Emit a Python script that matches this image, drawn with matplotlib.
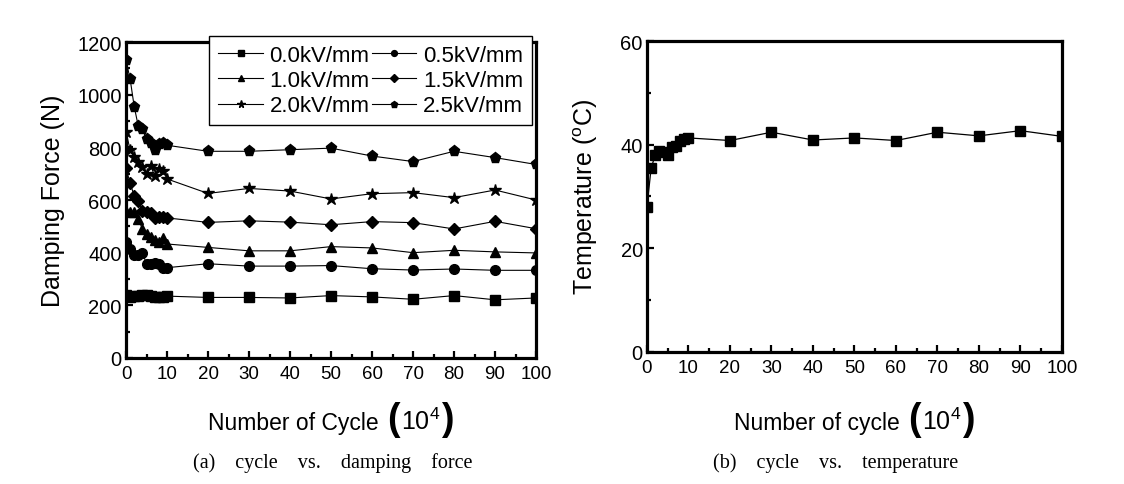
import matplotlib
matplotlib.use("Agg")
import matplotlib.pyplot as plt
from matplotlib.ticker import MultipleLocator
from matplotlib.offsetbox import TextArea, HPacker, AnnotationBbox

plt.rcParams['font.family'] = ['Liberation Sans', 'DejaVu Sans']
plt.rcParams['mathtext.fontset'] = 'custom'
plt.rcParams['mathtext.rm'] = 'Liberation Sans'
plt.rcParams['mathtext.it'] = 'Liberation Sans'

# cycles in 10^4
cycles = [0, 1, 2, 3, 4, 5, 6, 7, 8, 9, 10, 20, 30, 40, 50, 60, 70, 80, 90, 100]

# damping force (N) per field strength
f00 = [240, 232, 236, 237, 241, 240, 237, 232, 232, 232, 235, 230, 230, 228, 237, 232, 223, 237, 221, 228]
f05 = [440, 414, 392, 392, 400, 358, 358, 361, 357, 342, 343, 358, 349, 349, 351, 339, 334, 338, 333, 333]
f10 = [560, 555, 553, 528, 490, 471, 458, 450, 440, 455, 433, 420, 407, 407, 423, 418, 400, 409, 403, 399]
f15 = [720, 665, 615, 597, 560, 553, 550, 530, 535, 535, 532, 515, 521, 516, 506, 518, 514, 490, 519, 491]
f20 = [860, 790, 762, 743, 724, 700, 730, 692, 718, 711, 680, 625, 644, 634, 604, 624, 628, 609, 638, 600]
f25 = [1130, 1060, 955, 880, 870, 830, 815, 790, 812, 818, 808, 785, 785, 791, 797, 767, 746, 785, 761, 735]

labels = ["0.0kV/mm", "0.5kV/mm", "1.0kV/mm", "1.5kV/mm", "2.0kV/mm", "2.5kV/mm"]

# temperature (deg C)
temp = [28, 35.5, 38, 38.8, 38.5, 38.1, 39.5, 39.8, 40.8, 41.1, 41.3, 40.8, 42.4, 40.9, 41.3, 40.8, 42.4, 41.7, 42.7, 41.6]

fig = plt.figure(figsize=(11.24, 4.85), dpi=100)
ax1 = fig.add_axes([0.1121, 0.2598, 0.3648, 0.6515])
ax2 = fig.add_axes([0.5756, 0.2722, 0.3692, 0.6412])

def style(ax):
    for s in ax.spines.values():
        s.set_linewidth(2.3)
    ax.xaxis.set_major_locator(MultipleLocator(10))
    ax.xaxis.set_minor_locator(MultipleLocator(5))
    ax.tick_params(which='both', direction='in', top=False, right=False)
    ax.tick_params(which='major', length=5, width=1.6)
    ax.tick_params(which='minor', length=3, width=1.6)
    ax.tick_params(axis='x', labelsize=13.5, pad=5)
    ax.tick_params(axis='y', labelsize=14.5, pad=3)
    ax.set_xlim(0, 100)

def xlab(ax, s, y):
    parts = [TextArea(s, textprops=dict(fontsize=16.5)),
             TextArea("(", textprops=dict(fontsize=27, fontweight='bold')),
             TextArea(r"10$^{4}$", textprops=dict(fontsize=18)),
             TextArea(")", textprops=dict(fontsize=27, fontweight='bold'))]
    box = HPacker(children=parts, align="baseline", pad=0, sep=1)
    ab = AnnotationBbox(box, (0.5, y), xycoords='axes fraction', frameon=False,
                        box_alignment=(0.5, 0.5))
    ax.add_artist(ab)

# ---- (a) damping force
series = [f00, f05, f10, f15, f20, f25]
markers = ['s', 'o', '^', 'D', '*', 'p']
sizes = [6.5, 7, 7.5, 6.5, 9, 8]
lines = []
for y, m, ms, lb in zip(series, markers, sizes, labels):
    l, = ax1.plot(cycles, y, color='black', lw=0.8, marker=m, ms=ms, label=lb)
    lines.append(l)

style(ax1)
ax1.set_ylim(0, 1200)
ax1.yaxis.set_major_locator(MultipleLocator(200))
ax1.yaxis.set_minor_locator(MultipleLocator(100))
ax1.set_ylabel("Damping Force (N)", fontsize=18, labelpad=9)
xlab(ax1, "Number of Cycle ", -0.193)

order = [0, 2, 4, 1, 3, 5]
leg = ax1.legend([lines[i] for i in order], [labels[i] for i in order], ncol=2,
                 loc='upper right', bbox_to_anchor=(0.99, 1.02), borderaxespad=0,
                 fontsize=16, fancybox=False, framealpha=1, edgecolor='black',
                 handlelength=2.0, handletextpad=0.3, columnspacing=0.1,
                 labelspacing=0.2, borderpad=0.4, markerscale=0.6)
leg.get_frame().set_linewidth(1.0)

# ---- (b) temperature
ax2.plot(cycles, temp, color='black', lw=0.9, marker='s', ms=6.5)
style(ax2)
ax2.set_ylim(0, 60)
ax2.yaxis.set_major_locator(MultipleLocator(20))
ax2.yaxis.set_minor_locator(MultipleLocator(10))
ax2.set_ylabel(r"Temperature ($^{\mathrm{o}}$C)", fontsize=18, labelpad=15)
xlab(ax2, "Number of cycle ", -0.215)

# captions
fig.text(333 / 1124, 1 - 463 / 485, "(a)    cycle    vs.    damping    force", ha='center', va='center',
         fontsize=14.5, family='Liberation Serif')
fig.text(836 / 1124, 1 - 463 / 485, "(b)    cycle    vs.    temperature", ha='center', va='center',
         fontsize=14.5, family='Liberation Serif')

fig.savefig("out.png", dpi=100)
